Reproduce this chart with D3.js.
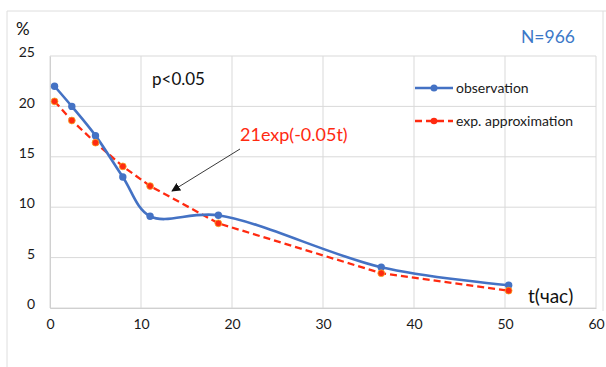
<!DOCTYPE html>
<html>
<head>
<meta charset="utf-8">
<script src="https://cdnjs.cloudflare.com/ajax/libs/d3/7.8.5/d3.min.js"></script>
<style>
  body { margin: 0; background: #fff; }
  text { font-family: Lato, "Open Sans", sans-serif; }
</style>
</head>
<body>
<div id="figure"></div>
<script>
// data
const obsT = [0.5, 2.4, 5.0, 8.0, 11.0, 18.5, 36.4, 50.4]
const obsV = [22.0, 20.0, 17.1, 13.0, 9.1, 9.2, 4.05, 2.25]
const expT = [0.5, 2.4, 5.0, 8.0, 11.0, 18.5, 36.4, 50.4]
const expV = [20.5, 18.6, 16.4, 14.05, 12.1, 8.4, 3.45, 1.72]
const xTicks = [0, 10, 20, 30, 40, 50, 60]
const yTicks = [0, 5, 10, 15, 20, 25]

const width = 606
const height = 367
const margin = { TOP: 56, LEFT: 50, RIGHT: 10, BOTTOM: 59 }

const svg = d3.select('#figure').append('svg').attr('width', width).attr('height', height)

// outer frame (light)
const frame = svg.append('g').attr('stroke', '#dedede').attr('fill', 'none')
frame.append('line').attr('x1', 7).attr('x2', 606).attr('y1', 11).attr('y2', 11)
frame.append('line').attr('x1', 7).attr('x2', 7).attr('y1', 11).attr('y2', 367)
frame.append('line').attr('x1', 603).attr('x2', 603).attr('y1', 11).attr('y2', 311)

const x = d3.scaleLinear().domain([0, 60]).range([margin.LEFT, width - margin.RIGHT])
const y = d3.scaleLinear().domain([0, 25]).range([height - margin.BOTTOM, margin.TOP])

/**
 * grid
 */
const grid = svg.append('g').attr('stroke', '#d9d9d9').attr('stroke-width', 1)
xTicks.forEach(t => {
  grid.append('line').attr('x1', x(t)).attr('x2', x(t)).attr('y1', y(0)).attr('y2', y(25))
})
yTicks.forEach(t => {
  grid.append('line').attr('x1', x(0)).attr('x2', x(60)).attr('y1', y(t)).attr('y2', y(t))
})

/**
 * axes
 */
const xAxis = svg.append('g').attr('transform', `translate(0,${y(0)})`)
  .call(d3.axisBottom(x).tickValues(xTicks).tickSize(0).tickPadding(11))
const yAxis = svg.append('g').attr('transform', `translate(${x(0)},0)`)
  .call(d3.axisLeft(y).tickValues(yTicks).tickSize(0).tickPadding(15))
;[xAxis, yAxis].forEach(a => {
  a.select('.domain').attr('stroke', '#d0d0d0')
  a.selectAll('text').attr('font-size', 14).attr('fill', '#1a1a1a').style('font-family', 'Lato, sans-serif')
})
yAxis.selectAll('text').attr('dy', '0.05em')

/**
 * series
 */
const blue = '#4472c4'
const red = '#ff2a10'
const obs = obsT.map((t, i) => [t, obsV[i]])
const ex = expT.map((t, i) => [t, expV[i]])

svg.append('path').datum(ex)
  .attr('d', d3.line().x(d => x(d[0])).y(d => y(d[1])))
  .attr('fill', 'none').attr('stroke', red).attr('stroke-width', 2.3).attr('stroke-dasharray', '7,4')

svg.append('path').datum(obs)
  .attr('d', d3.line().curve(d3.curveCatmullRom.alpha(0.5)).x(d => x(d[0])).y(d => y(d[1])))
  .attr('fill', 'none').attr('stroke', blue).attr('stroke-width', 2.6)

svg.append('g').selectAll('circle').data(obs).enter().append('circle')
  .attr('cx', d => x(d[0])).attr('cy', d => y(d[1])).attr('r', 3.7).attr('fill', blue)

svg.append('g').selectAll('circle').data(ex).enter().append('circle')
  .attr('cx', d => x(d[0])).attr('cy', d => y(d[1])).attr('r', 3.4).attr('fill', red).attr('stroke', '#f5a623').attr('stroke-width', 0.8)

/**
 * legend
 */
const lg = svg.append('g')
lg.append('line').attr('x1', 415).attr('x2', 453).attr('y1', 88).attr('y2', 88).attr('stroke', blue).attr('stroke-width', 2.6)
lg.append('circle').attr('cx', 434).attr('cy', 88).attr('r', 3.5).attr('fill', blue)
lg.append('text').text('observation').attr('x', 456).attr('y', 93).attr('font-size', 14).attr('fill', '#1a1a1a')
lg.append('line').attr('x1', 415).attr('x2', 453).attr('y1', 121).attr('y2', 121).attr('stroke', red).attr('stroke-width', 2.3).attr('stroke-dasharray', '7,4')
lg.append('circle').attr('cx', 434).attr('cy', 121).attr('r', 3.3).attr('fill', red)
lg.append('text').text('exp. approximation').attr('x', 456).attr('y', 126).attr('font-size', 14).attr('fill', '#1a1a1a')

/**
 * labels
 */
svg.append('text').text('%').attr('x', 16).attr('y', 35).attr('font-size', 17).attr('fill', '#111')
svg.append('text').text('N=966').attr('x', 521).attr('y', 43).attr('font-size', 17.5).attr('fill', '#3c78c8')
svg.append('text').text('p<0.05').attr('x', 152).attr('y', 85).attr('font-size', 17).attr('fill', '#111')
svg.append('text').text('t(час)').attr('x', 528).attr('y', 303).attr('font-size', 19).attr('fill', '#111')
svg.append('text').text('21exp(-0.05t)').attr('x', 240).attr('y', 141).attr('font-size', 18).attr('fill', red)

// arrow
svg.append('defs').append('marker').attr('id', 'arr').attr('viewBox', '0 0 10 10')
  .attr('refX', 9).attr('refY', 5).attr('markerWidth', 9).attr('markerHeight', 9).attr('orient', 'auto')
  .attr('markerUnits', 'userSpaceOnUse')
  .append('path').attr('d', 'M0,0 L10,5 L0,10 z').attr('fill', '#111')
svg.append('line').attr('x1', 240).attr('y1', 149).attr('x2', 172).attr('y2', 191)
  .attr('stroke', '#222').attr('stroke-width', 0.9).attr('marker-end', 'url(#arr)')
</script>
</body>
</html>
